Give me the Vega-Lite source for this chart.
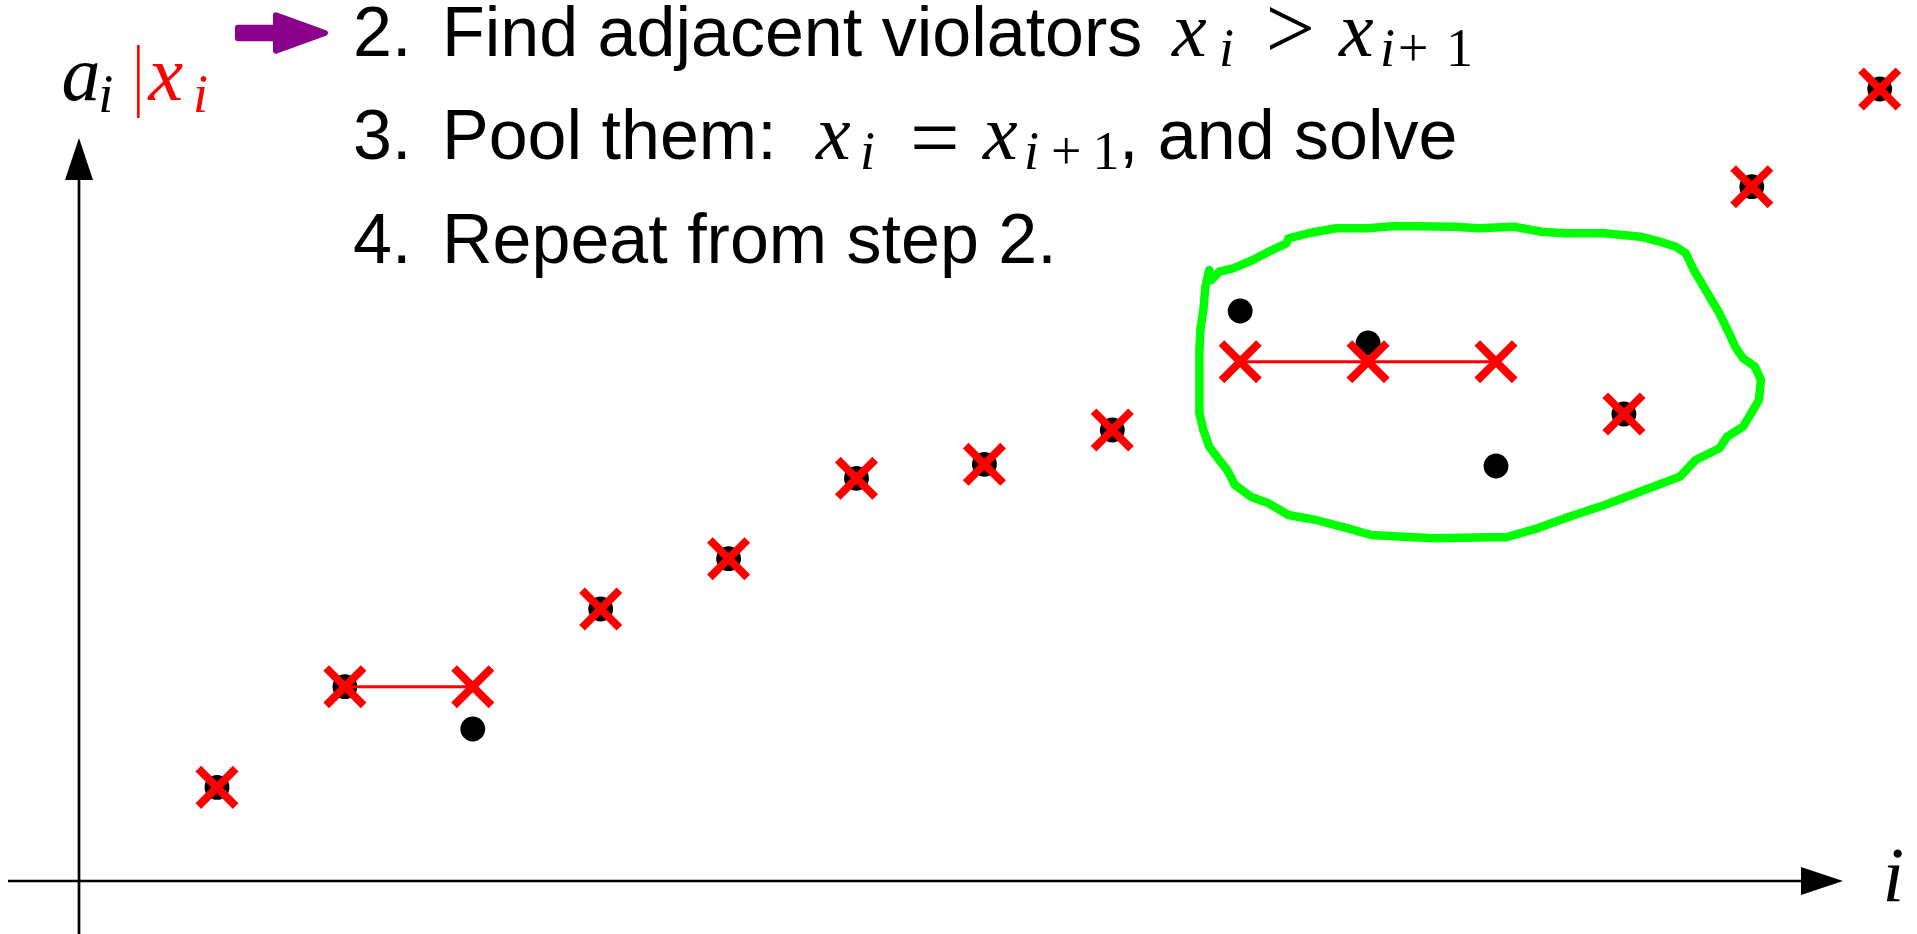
{
  "$schema": "https://vega.github.io/schema/vega-lite/v6.json",
  "width": 1917,
  "height": 934,
  "autosize": {"type": "none"},
  "padding": 0,
  "background": "#ffffff",
  "config": {"view": {"stroke": null}},
  "datasets": {
    "pava": [
      {"i": 1, "v": 0.936, "series": "a"}, {"i": 2, "v": 1.943, "series": "a"}, {"i": 3, "v": 1.52, "series": "a"},
      {"i": 4, "v": 2.72, "series": "a"}, {"i": 5, "v": 3.223, "series": "a"}, {"i": 6, "v": 4.027, "series": "a"},
      {"i": 7, "v": 4.167, "series": "a"}, {"i": 8, "v": 4.51, "series": "a"}, {"i": 9, "v": 5.70, "series": "a"},
      {"i": 10, "v": 5.38, "series": "a"}, {"i": 11, "v": 4.15, "series": "a"}, {"i": 12, "v": 4.67, "series": "a"},
      {"i": 13, "v": 6.943, "series": "a"}, {"i": 14, "v": 7.92, "series": "a"},
      {"i": 1, "v": 0.936, "series": "x"}, {"i": 2, "v": 1.943, "series": "x"}, {"i": 3, "v": 1.943, "series": "x"},
      {"i": 4, "v": 2.72, "series": "x"}, {"i": 5, "v": 3.223, "series": "x"}, {"i": 6, "v": 4.027, "series": "x"},
      {"i": 7, "v": 4.167, "series": "x"}, {"i": 8, "v": 4.51, "series": "x"}, {"i": 9, "v": 5.193, "series": "x"},
      {"i": 10, "v": 5.193, "series": "x"}, {"i": 11, "v": 5.193, "series": "x"}, {"i": 12, "v": 4.67, "series": "x"},
      {"i": 13, "v": 6.943, "series": "x"}, {"i": 14, "v": 7.92, "series": "x"}
    ],
    "pools": [
      {"i": 2, "i2": 3, "v": 1.943},
      {"i": 9, "i2": 11, "v": 5.193}
    ],
    "violatorLoop": [
      {"seq": 1, "i": 8.758, "v": 6.11}, {"seq": 2, "i": 8.728, "v": 5.943}, {"seq": 3, "i": 8.712, "v": 5.71},
      {"seq": 4, "i": 8.690, "v": 5.527}, {"seq": 5, "i": 8.681, "v": 5.31}, {"seq": 6, "i": 8.681, "v": 4.677},
      {"seq": 7, "i": 8.712, "v": 4.51}, {"seq": 8, "i": 8.758, "v": 4.343}, {"seq": 9, "i": 8.836, "v": 4.21},
      {"seq": 10, "i": 8.898, "v": 4.11}, {"seq": 11, "i": 8.959, "v": 3.96}, {"seq": 12, "i": 9.083, "v": 3.843},
      {"seq": 13, "i": 9.222, "v": 3.777}, {"seq": 14, "i": 9.377, "v": 3.66}, {"seq": 15, "i": 9.594, "v": 3.61},
      {"seq": 16, "i": 9.841, "v": 3.527}, {"seq": 17, "i": 10.026, "v": 3.46}, {"seq": 18, "i": 10.273, "v": 3.443},
      {"seq": 19, "i": 10.521, "v": 3.427}, {"seq": 20, "i": 10.953, "v": 3.437}, {"seq": 21, "i": 11.077, "v": 3.437},
      {"seq": 22, "i": 11.325, "v": 3.527}, {"seq": 23, "i": 11.572, "v": 3.643}, {"seq": 24, "i": 11.850, "v": 3.76},
      {"seq": 25, "i": 12.160, "v": 3.91}, {"seq": 26, "i": 12.437, "v": 4.043}, {"seq": 27, "i": 12.561, "v": 4.21},
      {"seq": 28, "i": 12.747, "v": 4.327}, {"seq": 29, "i": 12.808, "v": 4.443}, {"seq": 30, "i": 12.932, "v": 4.543},
      {"seq": 31, "i": 12.994, "v": 4.677}, {"seq": 32, "i": 13.056, "v": 4.81}, {"seq": 33, "i": 13.071, "v": 5.01},
      {"seq": 34, "i": 13.025, "v": 5.143}, {"seq": 35, "i": 12.932, "v": 5.227}, {"seq": 36, "i": 12.870, "v": 5.343},
      {"seq": 37, "i": 12.823, "v": 5.477}, {"seq": 38, "i": 12.747, "v": 5.677}, {"seq": 39, "i": 12.685, "v": 5.81},
      {"seq": 40, "i": 12.608, "v": 5.977}, {"seq": 41, "i": 12.546, "v": 6.11}, {"seq": 42, "i": 12.484, "v": 6.277},
      {"seq": 43, "i": 12.407, "v": 6.343}, {"seq": 44, "i": 12.283, "v": 6.393}, {"seq": 45, "i": 12.128, "v": 6.443},
      {"seq": 46, "i": 11.850, "v": 6.477}, {"seq": 47, "i": 11.541, "v": 6.477}, {"seq": 48, "i": 11.355, "v": 6.493},
      {"seq": 49, "i": 11.139, "v": 6.543}, {"seq": 50, "i": 10.861, "v": 6.527}, {"seq": 51, "i": 10.676, "v": 6.543},
      {"seq": 52, "i": 10.211, "v": 6.55}, {"seq": 53, "i": 9.995, "v": 6.527}, {"seq": 54, "i": 9.748, "v": 6.527},
      {"seq": 55, "i": 9.532, "v": 6.477}, {"seq": 56, "i": 9.377, "v": 6.427}, {"seq": 57, "i": 9.361, "v": 6.377},
      {"seq": 58, "i": 9.222, "v": 6.293}, {"seq": 59, "i": 9.099, "v": 6.21}, {"seq": 60, "i": 8.944, "v": 6.127},
      {"seq": 61, "i": 8.836, "v": 6.093}, {"seq": 62, "i": 8.774, "v": 6.01}
    ],
    "axisLines": [
      {"i": -0.634, "v": 0, "i2": 13.46, "v2": 0},
      {"i": -0.079, "v": -0.53, "i2": -0.079, "v2": 7.11}
    ],
    "axisHeads": [
      {"i": 13.549, "v": 0, "dir": "right"},
      {"i": -0.079, "v": 7.22, "dir": "up"}
    ],
    "stepPointer": [
      {"i": 1.504, "v": 8.48}
    ],
    "keyBar": [
      {"i": 0.385, "v": 8.36, "v2": 7.63}
    ],
    "steps": [
      {"i": 2.063, "v": 8.25, "label": "2."},
      {"i": 2.759, "v": 8.25, "label": "Find adjacent violators"},
      {"i": 2.063, "v": 7.22, "label": "3."},
      {"i": 2.759, "v": 7.22, "label": "Pool them:"},
      {"i": 8.052, "v": 7.22, "label": ", and solve"},
      {"i": 2.063, "v": 6.18, "label": "4."},
      {"i": 2.759, "v": 6.18, "label": "Repeat from step 2."}
    ],
    "mathSymbols": [
      {"i": 8.467, "v": 8.25, "label": "x", "level": "base", "series": "text"},
      {"i": 8.834, "v": 8.15, "label": "i", "level": "sub", "series": "text"},
      {"i": 9.772, "v": 8.25, "label": "x", "level": "base", "series": "text"},
      {"i": 10.093, "v": 8.15, "label": "i", "level": "sub", "series": "text"},
      {"i": 5.683, "v": 7.22, "label": "x", "level": "base", "series": "text"},
      {"i": 6.028, "v": 7.12, "label": "i", "level": "sub", "series": "text"},
      {"i": 6.989, "v": 7.22, "label": "x", "level": "base", "series": "text"},
      {"i": 7.310, "v": 7.12, "label": "i", "level": "sub", "series": "text"},
      {"i": -0.216, "v": 7.81, "label": "a", "level": "base", "series": "a"},
      {"i": 0.072, "v": 7.69, "label": "i", "level": "sub", "series": "a"},
      {"i": 0.464, "v": 7.81, "label": "x", "level": "base", "series": "x"},
      {"i": 0.812, "v": 7.69, "label": "i", "level": "sub", "series": "x"},
      {"i": 14.022, "v": -0.2, "label": "i", "level": "base", "series": "text"}
    ],
    "mathOperators": [
      {"i": 9.198, "v": 8.23, "label": ">", "level": "op"},
      {"i": 6.418, "v": 7.145, "label": "=", "level": "op"},
      {"i": 10.234, "v": 8.15, "label": "+", "level": "sub"},
      {"i": 10.61, "v": 8.15, "label": "1", "level": "sub"},
      {"i": 7.521, "v": 7.12, "label": "+", "level": "sub"},
      {"i": 7.845, "v": 7.12, "label": "1", "level": "sub"}
    ]
  },
  "encoding": {
    "x": {"field": "i", "type": "quantitative", "axis": null,
          "scale": {"type": "linear", "domain": [-0.6966, 14.2916], "nice": false, "zero": false}},
    "y": {"field": "v", "type": "quantitative", "axis": null,
          "scale": {"type": "linear", "domain": [-0.53, 8.81], "nice": false, "zero": false}}
  },
  "layer": [
    {
      "data": {"name": "violatorLoop"},
      "mark": {"type": "line", "color": "#00ff00", "strokeWidth": 8.5, "strokeJoin": "round", "strokeCap": "round"},
      "encoding": {"order": {"field": "seq", "type": "quantitative"}}
    },
    {
      "data": {"name": "axisLines"},
      "mark": {"type": "rule", "color": "#000000", "strokeWidth": 2.7},
      "encoding": {"x2": {"field": "i2"}, "y2": {"field": "v2"}}
    },
    {
      "data": {"name": "axisHeads"},
      "mark": {"type": "point", "filled": true, "opacity": 1, "color": "#000000", "size": 1764},
      "encoding": {
        "shape": {"field": "dir", "type": "nominal", "legend": null,
                  "scale": {"domain": ["right", "up"],
                            "range": ["M-1,-0.667L1,0L-1,0.667Z", "M-0.667,1L0,-1L0.667,1Z"]}}
      }
    },
    {
      "data": {"name": "stepPointer"},
      "mark": {"type": "point", "filled": true, "opacity": 1, "fill": "#8b008b", "stroke": "#8b008b",
               "strokeWidth": 6, "strokeJoin": "round", "size": 7569,
               "shape": "M-1,-0.123L-0.126,-0.123L-0.126,-0.406L1,0L-0.126,0.406L-0.126,0.123L-1,0.123Z"}
    },
    {
      "data": {"name": "pava"},
      "transform": [{"filter": "datum.series === 'a'"}],
      "mark": {"type": "point", "shape": "circle", "filled": true, "opacity": 1, "size": 616, "strokeWidth": 0},
      "encoding": {
        "color": {"field": "series", "type": "nominal", "legend": null,
                  "scale": {"domain": ["a", "x", "text"], "range": ["#000000", "#ff0000", "#000000"]}}
      }
    },
    {
      "data": {"name": "pools"},
      "mark": {"type": "rule", "color": "#ff0000", "strokeWidth": 3},
      "encoding": {"x2": {"field": "i2"}}
    },
    {
      "data": {"name": "pava"},
      "transform": [{"filter": "datum.series === 'x'"}],
      "mark": {"type": "point", "shape": "M-1,-1L1,1M-1,1L1,-1", "filled": false, "opacity": 1,
               "size": 1400, "strokeWidth": 8, "strokeCap": "butt"},
      "encoding": {
        "color": {"field": "series", "type": "nominal", "legend": null,
                  "scale": {"domain": ["a", "x", "text"], "range": ["#000000", "#ff0000", "#000000"]}}
      }
    },
    {
      "data": {"name": "keyBar"},
      "mark": {"type": "rule", "color": "#ff0000", "strokeWidth": 2.6},
      "encoding": {"y2": {"field": "v2"}}
    },
    {
      "data": {"name": "steps"},
      "mark": {"type": "text", "font": "Liberation Sans", "fontSize": 70, "align": "left",
               "baseline": "alphabetic", "color": "#000000"},
      "encoding": {"text": {"field": "label"}}
    },
    {
      "data": {"name": "mathSymbols"},
      "mark": {"type": "text", "font": "Liberation Serif", "fontStyle": "italic", "align": "left",
               "baseline": "alphabetic"},
      "encoding": {
        "text": {"field": "label"},
        "size": {"field": "level", "type": "nominal", "legend": null,
                 "scale": {"type": "ordinal", "domain": ["base", "sub", "op"], "range": [78, 54, 88]}},
        "color": {"field": "series", "type": "nominal", "legend": null,
                  "scale": {"domain": ["a", "x", "text"], "range": ["#000000", "#ff0000", "#000000"]}}
      }
    },
    {
      "data": {"name": "mathOperators"},
      "mark": {"type": "text", "font": "Liberation Serif", "align": "left", "baseline": "alphabetic",
               "color": "#000000"},
      "encoding": {
        "text": {"field": "label"},
        "size": {"field": "level", "type": "nominal", "legend": null,
                 "scale": {"type": "ordinal", "domain": ["base", "sub", "op"], "range": [78, 54, 88]}}
      }
    }
  ]
}
